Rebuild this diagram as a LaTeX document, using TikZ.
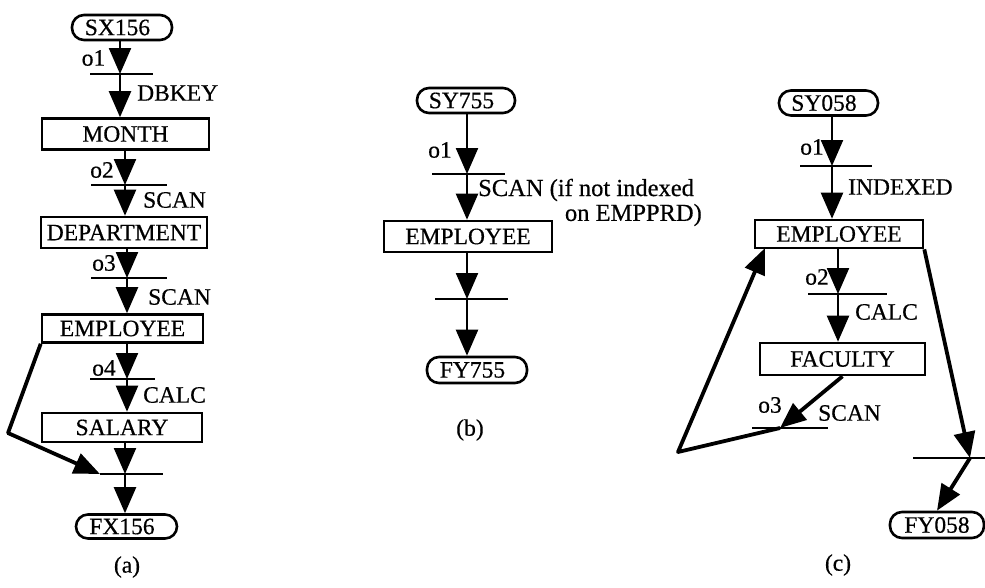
\documentclass[tikz,border=0pt]{standalone}
\usepackage{fontspec}
\setmainfont{Liberation Serif}
\newfontfamily\scanfont[FakeBold=0.5]{Liberation Serif}
\usetikzlibrary{arrows.meta}
\newcommand\pilltxt[1]{\kern-9pt #1}
\begin{document}
\begin{tikzpicture}[x=1pt,y=-1pt,
  txt/.style={font=\scanfont\fontsize{23.5}{25}\selectfont, inner sep=0pt},
  wtxt/.style={font=\scanfont\fontsize{24.5}{26}\selectfont, inner sep=0pt},
  box/.style={draw, line width=2.6pt, inner sep=0pt, txt},
  pill/.style={draw, line width=2.6pt, rounded corners=12pt, inner sep=0pt, txt},
  arr/.style={line width=2.3pt, -{Triangle[length=26pt,width=22pt]}},
  fb/.style={line width=3.8pt, line join=round, -{Triangle[length=26pt,width=21pt]}},
  bar/.style={line width=2.8pt},
]
\useasboundingbox (0,0) rectangle (985,587);

% ---------------- (a) ----------------
\node[pill, minimum width=100pt, minimum height=25pt] (sx156) at (122,27.5) {\pilltxt{SX156}};
\node[box, minimum width=167pt, minimum height=31pt] (month) at (125.5,134) {MONTH};
\node[box, minimum width=166pt, minimum height=31pt] (dept) at (124,232.5) {DEPARTMENT};
\node[box, minimum width=161pt, minimum height=28pt] (empa) at (122.5,328.5) {EMPLOYEE};
\node[box, minimum width=160pt, minimum height=29pt] (salary) at (122,427.5) {SALARY};
\node[pill, minimum width=101pt, minimum height=24pt] (fx156) at (126.5,526.5) {\pilltxt{FX156}};

\coordinate (a1) at (120,74);  \coordinate (a1l) at (90,74);  \coordinate (a1r) at (153,74);
\coordinate (a2) at (125,185); \coordinate (a2l) at (91,185); \coordinate (a2r) at (167,185);
\coordinate (a3) at (127,278); \coordinate (a3l) at (91,278); \coordinate (a3r) at (167,278);
\coordinate (a4) at (127,379); \coordinate (a4l) at (90,379); \coordinate (a4r) at (155,379);
\coordinate (a5) at (125,474); \coordinate (a5l) at (100,474); \coordinate (a5r) at (163,474);
\coordinate (afb) at (8,433);

\foreach \b in {a1,a2,a3,a4,a5} \draw[bar] (\b l) -- (\b r);

\draw[arr] (sx156.south -| a1) -- (a1);
\draw[arr] (a1) -- (month.north -| a1);
\draw[arr] (month.south -| a2) -- (a2);
\draw[arr] (a2) -- (dept.north -| a2);
\draw[arr] (dept.south -| a3) -- (a3);
\draw[arr] (a3) -- (empa.north -| a3);
\draw[arr] (empa.south -| a4) -- (a4);
\draw[arr] (a4) -- (salary.north -| a4);
\draw[arr] (salary.south -| a5) -- (a5);
\draw[arr] (a5) -- (fx156.north -| a5);
\draw[fb] (empa.south west) -- (afb) -- (a5l);

\node[txt] (lo1a) at (93.5,58) {o1};
\node[txt, anchor=west] (ldbkey) at (137,93) {DBKEY};
\node[txt] (lo2a) at (102,170) {o2};
\node[txt, anchor=west] (lscana) at (143,200) {SCAN};
\node[txt] (lo3a) at (104,263) {o3};
\node[txt, anchor=west] (lscanb) at (148,297) {SCAN};
\node[txt] (lo4a) at (104,368) {o4};
\node[txt, anchor=west] (lcalca) at (143,395) {CALC};
\node[txt] (capa) at (127,567) {(a)};

% ---------------- (b) ----------------
\node[pill, minimum width=98pt, minimum height=25pt] (sy755) at (466,100.5) {\pilltxt{SY755}};
\node[box, minimum width=168pt, minimum height=31pt] (empb) at (468,236.5) {EMPLOYEE};
\node[pill, minimum width=100pt, minimum height=26pt] (fy755) at (477,370) {\pilltxt{FY755}};

\coordinate (b1) at (467,174); \coordinate (b1l) at (432,174); \coordinate (b1r) at (505,174);
\coordinate (b2) at (467,299); \coordinate (b2l) at (435,299); \coordinate (b2r) at (508,299);
\foreach \b in {b1,b2} \draw[bar] (\b l) -- (\b r);

\draw[arr] (sy755.south -| b1) -- (b1);
\draw[arr] (b1) -- (empb.north -| b1);
\draw[arr] (empb.south -| b2) -- (b2);
\draw[arr] (b2) -- (fy755.north -| b2);

\node[txt] (lo1b) at (440,150) {o1};
\node[wtxt, anchor=west] (lscanc) at (478,190) {SCAN (if not indexed};
\node[wtxt, anchor=east] (lscand) at (702,215) {on EMPPRD)};
\node[txt] (capb) at (470,430) {(b)};

% ---------------- (c) ----------------
\node[pill, minimum width=99pt, minimum height=25pt] (sy058) at (828.5,103) {\pilltxt{SY058}};
\node[box, minimum width=168pt, minimum height=28pt] (empc) at (839,234) {EMPLOYEE};
\node[box, minimum width=165pt, minimum height=32pt] (faculty) at (842.5,359) {FACULTY};
\node[pill, minimum width=94pt, minimum height=26pt] (fy058) at (937,525) {FY058};

\coordinate (c1) at (832,166); \coordinate (c1l) at (800,166); \coordinate (c1r) at (872,166);
\coordinate (c2) at (838,294); \coordinate (c2l) at (808,294); \coordinate (c2r) at (887,294);
\coordinate (c3) at (780,428); \coordinate (c3l) at (752,428); \coordinate (c3r) at (828,428);
\coordinate (c4) at (970,458); \coordinate (c4l) at (913,458); \coordinate (c4r) at (985,458);
\coordinate (cfb) at (678,452);
\coordinate (cin) at (765,248);
\foreach \b in {c1,c2,c3,c4} \draw[bar] (\b l) -- (\b r);

\draw[arr] (sy058.south -| c1) -- (c1);
\draw[arr] (c1) -- (empc.north -| c1);
\draw[arr] (empc.south -| c2) -- (c2);
\draw[arr] (c2) -- (faculty.north -| c2);
\draw[fb] (faculty.south) -- (c3);
\draw[fb] (c3) -- (cfb) -- (cin);
\draw[fb] (empc.south east) -- (c4);
\draw[fb] (c4) -- (fy058.north);

\node[txt] (lo1c) at (812,147) {o1};
\node[txt, anchor=west] (lindexed) at (848,187) {INDEXED};
\node[txt] (lo2c) at (817,277) {o2};
\node[txt, anchor=west] (lcalcc) at (855,312) {CALC};
\node[txt] (lo3c) at (770,405) {o3};
\node[txt, anchor=west] (lscane) at (818,413) {SCAN};
\node[txt] (capc) at (838,565) {(c)};
\end{tikzpicture}
\end{document}
